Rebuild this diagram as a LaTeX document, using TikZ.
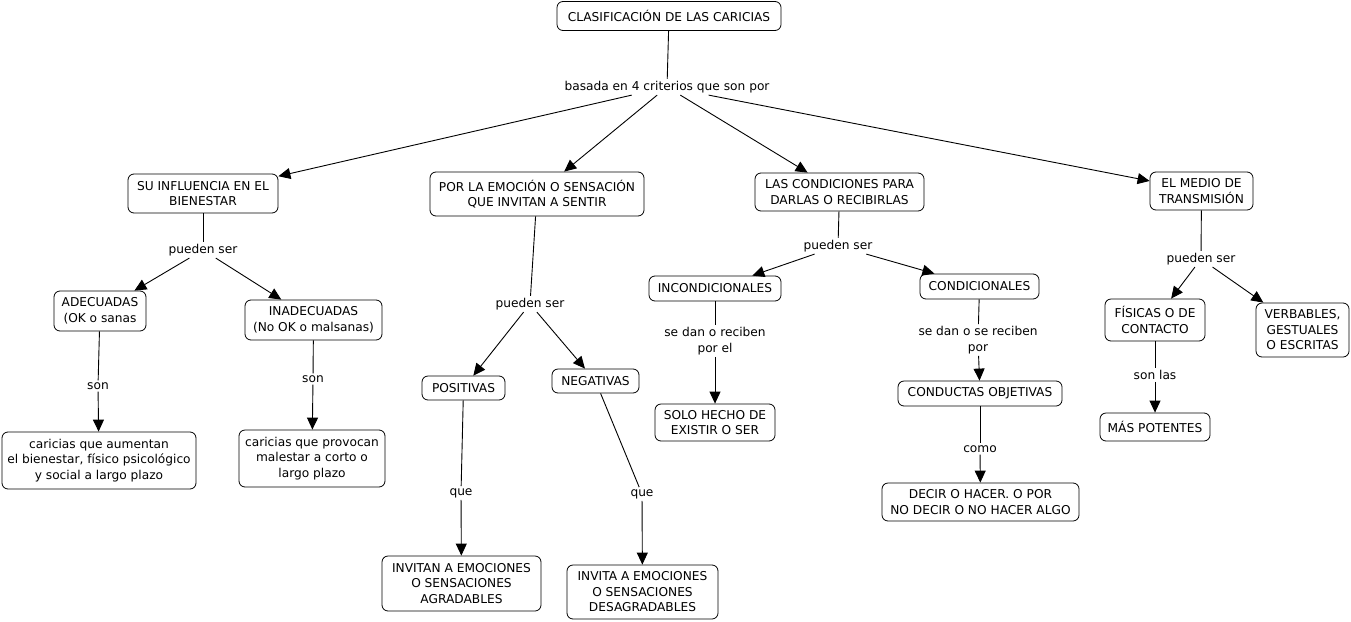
\documentclass[tikz,border=0pt]{standalone}
\usepackage{fontspec}
\setmainfont{DejaVu Sans}
\usetikzlibrary{arrows.meta}
\begin{document}
\begin{tikzpicture}[x=1pt,y=-1pt,
  every node/.style={font=\fontsize{12.2}{15.5}\selectfont, align=center},
  box/.style={draw=black, line width=0.8pt, rounded corners=6pt, inner sep=2pt, fill=white},
  lab/.style={inner sep=2pt},
  con/.style={draw=black, line width=0.9pt},
  arr/.style={con, -{Triangle[length=12pt,width=11pt]}}]
\useasboundingbox[fill=white] (0,0) rectangle (1351,621);

% main
\node[box, minimum width=224, minimum height=29] (title) at (669,16) {CLASIFICACIÓN DE LAS CARICIAS};
\node[lab] (crit) at (667,87) {basada en 4 criterios que son por};

\node[box, minimum width=150, minimum height=39] (inf) at (203,193.5) {SU INFLUENCIA EN EL\\BIENESTAR};
\node[box, minimum width=214, minimum height=44] (emo) at (537,194) {POR LA EMOCIÓN O SENSACIÓN\\QUE INVITAN A SENTIR};
\node[box, minimum width=169, minimum height=38] (cond) at (839.5,192) {LAS CONDICIONES PARA\\DARLAS O RECIBIRLAS};
\node[box, minimum width=103, minimum height=38] (medio) at (1201.5,191) {EL MEDIO DE\\TRANSMISIÓN};

\draw[con] (title) -- (crit);
\draw[arr] (crit) -- (inf);
\draw[arr] (crit) -- (emo);
\draw[arr] (crit) -- (cond);
\draw[arr] (crit) -- (medio);

% branch 1
\node[lab] (p1) at (203,250) {pueden ser};
\node[box, minimum width=92, minimum height=40] (ade) at (100,311) {ADECUADAS\\(OK o sanas};
\node[box, minimum width=137, minimum height=40] (inade) at (313.5,320) {INADECUADAS\\(No OK o malsanas)};
\node[lab] (son1) at (98,386) {son};
\node[lab] (son2) at (313,379) {son};
\node[box, minimum width=194, minimum height=57] (car1) at (99,460.5) {caricias que aumentan\\el bienestar, físico psicológico\\y social a largo plazo};
\node[box, minimum width=146, minimum height=57] (car2) at (312,458.5) {caricias que provocan\\malestar a corto o\\largo plazo};
\draw[con] (inf) -- (p1);
\draw[arr] (p1) -- (ade);
\draw[arr] (p1) -- (inade);
\draw[con] (ade) -- (son1);
\draw[arr] (son1) -- (car1);
\draw[con] (inade) -- (son2);
\draw[arr] (son2) -- (car2);

% branch 2
\node[lab] (p2) at (530,304) {pueden ser};
\node[box, minimum width=83, minimum height=24] (pos) at (463.5,388) {POSITIVAS};
\node[box, minimum width=87, minimum height=24] (neg) at (595.5,381) {NEGATIVAS};
\node[lab] (que1) at (461,493) {que};
\node[lab] (que2) at (642,494) {que};
\node[box, minimum width=159, minimum height=55] (agr) at (461.5,583.5) {INVITAN A EMOCIONES\\O SENSACIONES\\AGRADABLES};
\node[box, minimum width=151, minimum height=54] (des) at (642.5,592) {INVITA A EMOCIONES\\O SENSACIONES\\DESAGRADABLES};
\draw[con] (emo) -- (p2);
\draw[arr] (p2) -- (pos);
\draw[arr] (p2) -- (neg);
\draw[con] (pos) -- (que1);
\draw[arr] (que1) -- (agr);
\draw[con] (neg) -- (que2);
\draw[arr] (que2) -- (des);

% branch 3
\node[lab] (p3) at (838,246) {pueden ser};
\node[box, minimum width=132, minimum height=25] (incond) at (715,288.5) {INCONDICIONALES};
\node[box, minimum width=119, minimum height=25] (condi) at (979.5,286.5) {CONDICIONALES};
\node[lab] (sd1) at (715,341) {se dan o reciben\\por el};
\node[lab] (sd2) at (978,340) {se dan o se reciben\\por};
\node[box, minimum width=120, minimum height=37] (solo) at (715,422.5) {SOLO HECHO DE\\EXISTIR O SER};
\node[box, minimum width=164, minimum height=25] (condu) at (980,393.5) {CONDUCTAS OBJETIVAS};
\node[lab] (como) at (980,449) {como};
\node[box, minimum width=197, minimum height=38] (decir) at (980.5,502) {DECIR O HACER. O POR\\NO DECIR O NO HACER ALGO};
\draw[con] (cond) -- (p3);
\draw[arr] (p3) -- (incond);
\draw[arr] (p3) -- (condi);
\draw[con] (incond) -- (sd1);
\draw[arr] (sd1) -- (solo);
\draw[con] (condi) -- (sd2);
\draw[arr] (sd2) -- (condu);
\draw[con] (condu) -- (como);
\draw[arr] (como) -- (decir);

% branch 4
\node[lab] (p4) at (1201,259) {pueden ser};
\node[box, minimum width=100, minimum height=42] (fis) at (1155,320) {FÍSICAS O DE\\CONTACTO};
\node[box, minimum width=93, minimum height=54] (verb) at (1302.5,330) {VERBABLES,\\GESTUALES\\O ESCRITAS};
\node[lab] (sonlas) at (1155,375) {son las};
\node[box, minimum width=110, minimum height=28] (mas) at (1155,427) {MÁS POTENTES};
\draw[con] (medio) -- (p4);
\draw[arr] (p4) -- (fis);
\draw[arr] (p4) -- (verb);
\draw[con] (fis) -- (sonlas);
\draw[arr] (sonlas) -- (mas);
\end{tikzpicture}
\end{document}
